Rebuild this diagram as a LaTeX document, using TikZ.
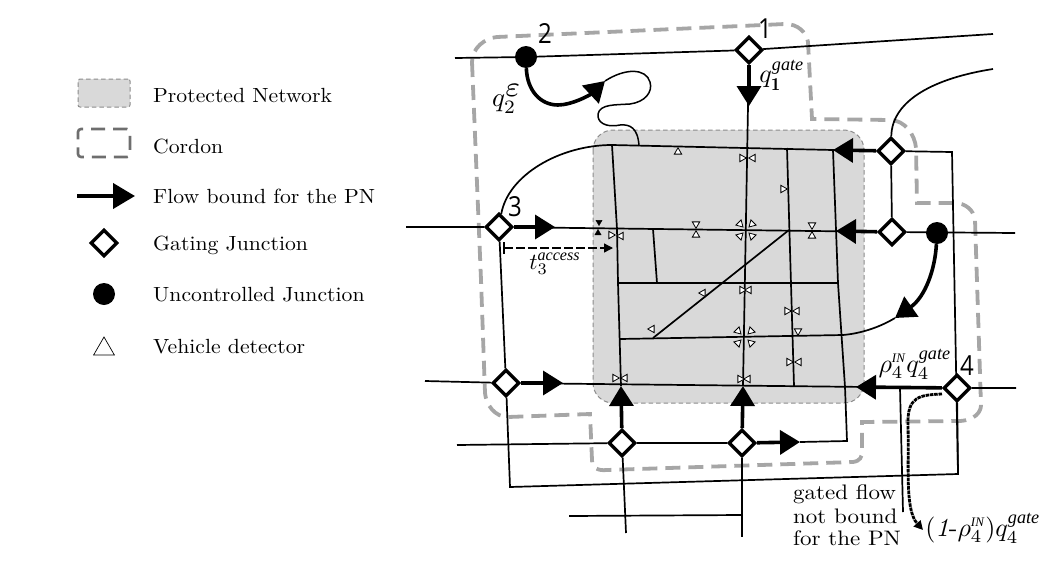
\documentclass[tikz,border=0pt]{standalone}
\usepackage{fontspec}
\newfontfamily\numf{Open Sans}
\newfontfamily\supf{Liberation Serif}
\usetikzlibrary{arrows.meta,shapes.geometric}
\pgfdeclarelayer{back}
\pgfdeclarelayer{road}
\pgfsetlayers{back,road,main}
\definecolor{pnfill}{HTML}{D9D9D9}
\definecolor{pnedge}{HTML}{8C8C8C}
\definecolor{cordon}{HTML}{A6A6A6}
\definecolor{cordonlg}{HTML}{6E6E6E}
\newcommand{\mlab}[2][2.6]{\scalebox{#1}{$#2$}}
\newcommand{\lgt}[1]{\scalebox{2.17}[2.05]{#1}}
\newcommand{\gft}[1]{\scalebox{2.3}[2.1]{#1}}
\newcommand{\nmb}[1]{\scalebox{1}[1.15]{#1}}
\newcommand{\supa}[1]{\mbox{\supf\itshape\fontsize{7}{7}\selectfont #1}}
\newcommand{\supb}[1]{\mbox{\supf\itshape\fontsize{5}{5}\selectfont #1}}
\tikzset{
  x=1pt,y=-1pt,
  gate/.style={diamond,draw=black,fill=white,line width=3.4pt,minimum size=27pt,inner sep=0pt},
  unctrl/.style={circle,fill=black,minimum size=22pt,inner sep=0pt},
  roadline/.style={line width=1.7pt,draw=black},
  flowline/.style={line width=3.6pt,draw=black,-{Triangle[length=20pt,width=24pt]}},
  pnbox/.style={draw=pnedge,fill=pnfill,line width=1pt,dash pattern=on 4.5pt off 3pt},
  cordonline/.style={draw=cordon,line width=3.8pt,dash pattern=on 15pt off 8pt},
  dtr/.style={regular polygon,regular polygon sides=3,draw=black,fill=white,line width=.8pt,minimum size=8.5pt,inner sep=0pt,shape border rotate=#1},
  dtk/.style={regular polygon,regular polygon sides=3,draw=black,fill=black,line width=.5pt,minimum size=7pt,inner sep=0pt,shape border rotate=#1},
  lgtext/.style={anchor=base west,inner sep=0pt},
  num/.style={inner sep=0pt,font=\numf\fontsize{24}{26}\selectfont},
  lab/.style={inner sep=0pt}
}
\begin{document}
\begin{tikzpicture}
\useasboundingbox (0,0) rectangle (1052,560);

% legend
\node[pnbox,rounded corners=2pt,minimum width=52pt,minimum height=28pt,inner sep=0pt] (lgpn) at (104,93) {};
\node[draw=cordonlg,line width=2.6pt,dash pattern=on 14pt off 8pt,rounded corners=3pt,minimum width=52pt,minimum height=28pt,inner sep=0pt] (lgco) at (104,143) {};
\coordinate (lgfa) at (77,196);
\coordinate (lgfb) at (135,196);
\draw[line width=4pt,-{Triangle[length=22pt,width=25pt]}] (lgfa) -- (lgfb);
\node[gate,minimum size=27pt] (lgg) at (104,243) {};
\node[unctrl] (lgu) at (104,294) {};
\node[regular polygon,regular polygon sides=3,draw=black,line width=.7pt,minimum size=24pt,inner sep=0pt] (lgd) at (104,349) {};
\node[lgtext] (t1) at (153,102) {\lgt{Protected Network}};
\node[lgtext] (t2) at (153,153) {\lgt{Cordon}};
\node[lgtext] (t3) at (153,203) {\lgt{Flow bound for the PN}};
\node[lgtext] (t4) at (153,250) {\lgt{Gating Junction}};
\node[lgtext] (t5) at (153,301) {\lgt{Uncontrolled Junction}};
\node[lgtext] (t6) at (153,353) {\lgt{Vehicle detector}};

% protected network and cordon
\begin{pgfonlayer}{back}
\draw[pnbox,rounded corners=20pt] (593,130) rectangle (864,403);
\draw[cordonline]
  (472,62) -- (481,280) -- (485,393) .. controls (486,405) and (495,417) .. (508,417)
  -- (590,414) -- (592,460) .. controls (592,468) and (598,471) .. (607,470)
  -- (853,462) .. controls (860,461) and (862,457) .. (862,452) -- (862,422)
  -- (960,421) .. controls (975,420) and (981,412) .. (981,405)
  -- (975,220) .. controls (974,210) and (965,203) .. (955,203)
  -- (917,203) -- (916,148) .. controls (915,135) and (905,120) .. (890,120)
  -- (812,119) -- (808,42) .. controls (806,32) and (798,24) .. (785,24)
  -- (497,37) .. controls (485,38) and (472,48) .. cycle;
\end{pgfonlayer}

% junctions
\node[unctrl] (j2) at (526,57) {};
\node[gate] (j1) at (749,50) {};
\node[gate] (jA) at (891,151) {};
\node[gate] (jB) at (892,232) {};
\node[unctrl] (jC) at (937,233) {};
\node[gate] (j3) at (499,227) {};
\node[gate] (jD) at (506,383) {};
\node[gate] (j4) at (957,388) {};
\node[gate] (jE) at (622,443) {};
\node[gate] (jF) at (742,443) {};

% road end points
\coordinate (e1) at (455,58);
\coordinate (e2) at (993,34);
\coordinate (e3) at (993,69);
\coordinate (e4) at (406,227);
\coordinate (e5) at (1015,233);
\coordinate (e6) at (425,381);
\coordinate (e7) at (1016,388);
\coordinate (e8) at (457,445);
\coordinate (e9) at (626,533);
\coordinate (e10) at (742,537);
\coordinate (e11) at (569,516);
\coordinate (e12) at (742,515);
\coordinate (e13) at (903,512);
\coordinate (rb1) at (958,474);
\coordinate (rb2) at (510,487);
\coordinate (rt) at (952,152);
\coordinate (v4b) at (847,441);
\coordinate (n1a) at (612,145);
\coordinate (n1b) at (833,150);
\coordinate (n2a) at (617,229);
\coordinate (n2s) at (653,229);
\coordinate (n2d) at (789,230);
\coordinate (n2b) at (836,231);
\coordinate (n3a) at (618,283);
\coordinate (n3s) at (657,283);
\coordinate (n3b) at (838,283);
\coordinate (n4a) at (620,339);
\coordinate (n4d) at (653,338);
\coordinate (n4b) at (843,335);
\coordinate (n5a) at (621,386);
\coordinate (n5c) at (743,386);
\coordinate (n5e) at (794,386);
\coordinate (n5f) at (845,387);
\coordinate (n5v) at (900,388);
\coordinate (n5t) at (856,387);
\coordinate (v3t) at (787,148);
\coordinate (thr) at (639,146);
\coordinate (thr2) at (605,81);
\coordinate (a1) at (749,106);
\coordinate (a3) at (555,227);
\coordinate (aD) at (563,383);
\coordinate (aF) at (800,442);
\coordinate (cv) at (895,318);

\begin{pgfonlayer}{road}
\draw[roadline] (e1) -- (j2) -- (j1) -- (e2);
\draw[roadline] (e3) .. controls (935,78) and (892,100) .. (jA);
\draw[roadline] (jA) -- (jB);
\draw[roadline] (jA) -- (rt) -- (rb1) -- (rb2) -- (jD) -- (j3);
\draw[roadline] (j4) -- (rb1);
\draw[roadline] (e4) -- (j3) -- (jB) -- (e5);
\draw[roadline] (j3) .. controls (508,175) and (560,145) .. (n1a) -- (n1b) -- (jA);
\draw[roadline] (n1a) -- (n2a) -- (n3a) -- (n5a);
\draw[roadline] (j1) -- (n5c);
\draw[roadline] (v3t) -- (n5e);
\draw[roadline] (n1b) -- (n3b) -- (n5f) -- (v4b) -- (aF);
\draw[roadline] (n2s) -- (n3s);
\draw[roadline] (n3a) -- (n3b);
\draw[roadline] (n4a) -- (n4b) .. controls (855,334) and (875,330) .. (cv);
\draw[roadline] (n4d) -- (n2d);
\draw[roadline] (e6) -- (jD) -- (j4) -- (e7);
\draw[roadline] (e8) -- (jE) -- (jF);
\draw[roadline] (jE) -- (e9);
\draw[roadline] (jF) -- (e10);
\draw[roadline] (e11) -- (e12);
\draw[roadline] (n5v) -- (e13);
% looping thread
\draw[line width=1.5pt] (thr) .. controls (638,128) and (630,124) .. (620,125)
  .. controls (605,128) and (597,122) .. (598,114)
  .. controls (600,104) and (615,105) .. (630,104)
  .. controls (645,102) and (653,92) .. (650,82)
  .. controls (646,68) and (625,68) .. (thr2);
% gated-flow arrows
\draw[flowline] (j1) -- (a1);
\draw[flowline] (j3) -- (a3);
\draw[flowline] (jD) -- (aD);
\draw[flowline] (jA) -- (n1b);
\draw[flowline] (jB) -- (n2b);
\draw[flowline] (jE) -- (n5a);
\draw[flowline] (jF) -- (n5c);
\draw[flowline] (jF) -- (aF);
\draw[flowline] (j4) -- (n5t);
\draw[line width=3.6pt,-{Triangle[length=20pt,width=24pt]}] (j2) .. controls (527,90) and (540,105) .. (558,105) .. controls (572,105) and (590,95) .. (thr2);
\draw[line width=3.6pt,-{Triangle[length=20pt,width=24pt]}] (jC) .. controls (935,270) and (925,297) .. (cv);
% access-time arrow
\coordinate (ta) at (504,248);
\coordinate (tb) at (613,248);
\coordinate (tu) at (504,242);
\coordinate (td) at (504,254);
\draw[line width=1.2pt] (tu) -- (td);
\draw[line width=1.3pt,dash pattern=on 9pt off 3pt,-{Triangle[length=9pt,width=9pt]}] (ta) -- (tb);
% non-PN gated flow
\coordinate (ga) at (942,394);
\coordinate (gb) at (923,530);
\draw[line width=2.8pt,dash pattern=on 3.5pt off .8pt,-{Triangle[length=9pt,width=9pt]}]
  (ga) .. controls (920,395) and (907,396) .. (908,425) .. controls (909,470) and (905,510) .. (gb);
\end{pgfonlayer}

% detectors
\node[dtr=0] (d1) at (678,152) {};
\node[dtr=-90] (d2) at (742,158) {};
\node[dtr=90] (d3) at (753,158) {};
\node[dtr=-90] (d4) at (783,189) {};
\node[dtk=180] (d5) at (599,222) {};
\node[dtk=0] (d6) at (598,233) {};
\node[dtr=-90] (d7) at (611,235) {};
\node[dtr=90] (d8) at (621,236) {};
\node[dtr=180] (d9) at (696,224) {};
\node[dtr=0] (d10) at (696,235) {};
\node[dtr=105] (d11) at (740,224) {};
\node[dtr=-105] (d12) at (752,224) {};
\node[dtr=75] (d13) at (740,236) {};
\node[dtr=-75] (d14) at (752,236) {};
\node[dtr=180] (d15) at (812,225) {};
\node[dtr=0] (d16) at (812,236) {};
\node[dtr=90] (d17) at (703,293) {};
\node[dtr=90] (d18) at (652,329) {};
\node[dtr=-90] (d19) at (742,290) {};
\node[dtr=90] (d20) at (749,290) {};
\node[dtr=-90] (d21) at (787,311) {};
\node[dtr=90] (d22) at (797,311) {};
\node[dtr=105] (d23) at (738,331) {};
\node[dtr=-105] (d24) at (751,331) {};
\node[dtr=75] (d25) at (738,343) {};
\node[dtr=-75] (d26) at (751,343) {};
\node[dtr=180] (d27) at (798,331) {};
\node[dtr=-90] (d28) at (789,362) {};
\node[dtr=90] (d29) at (799,362) {};
\node[dtr=-90] (d30) at (615,378) {};
\node[dtr=90] (d31) at (625,378) {};
\node[dtr=-90] (d32) at (740,379) {};
\node[dtr=90] (d33) at (748,379) {};

% labels
\node[num] (n1) at (765,29) {\nmb{1}};
\node[num] (n2) at (545,34) {\nmb{2}};
\node[num] (n3) at (515,207) {\nmb{3}};
\node[num] (n4) at (967,366) {\nmb{4}};
\node[lab] (q2) at (507,99) {\mlab[2.7]{q_2^{\scalebox{1.5}{$\scriptstyle\varepsilon$}}}};
\node[lab] (q1) at (782,75) {\mlab{q_{\mathbf{1}}^{\supa{gate}}}};
\node[lab] (ta3) at (555,264) {\mlab[2.3]{t_3^{\supa{access}}}};
\node[lab] (rq) at (915,364) {\mlab{\rho_4^{\supb{IN}}q_4^{\supa{gate}}}};
\node[lab] (rq2) at (983,528) {\mlab{(\mathit{1}\mbox{-}\rho_4^{\supb{IN}})q_4^{\supa{gate}}}};
\node[lgtext] (gf1) at (793,499) {\gft{gated flow}};
\node[lgtext] (gf2) at (793,523) {\gft{not bound}};
\node[lgtext] (gf3) at (793,545) {\gft{for the PN}};
\end{tikzpicture}
\end{document}
